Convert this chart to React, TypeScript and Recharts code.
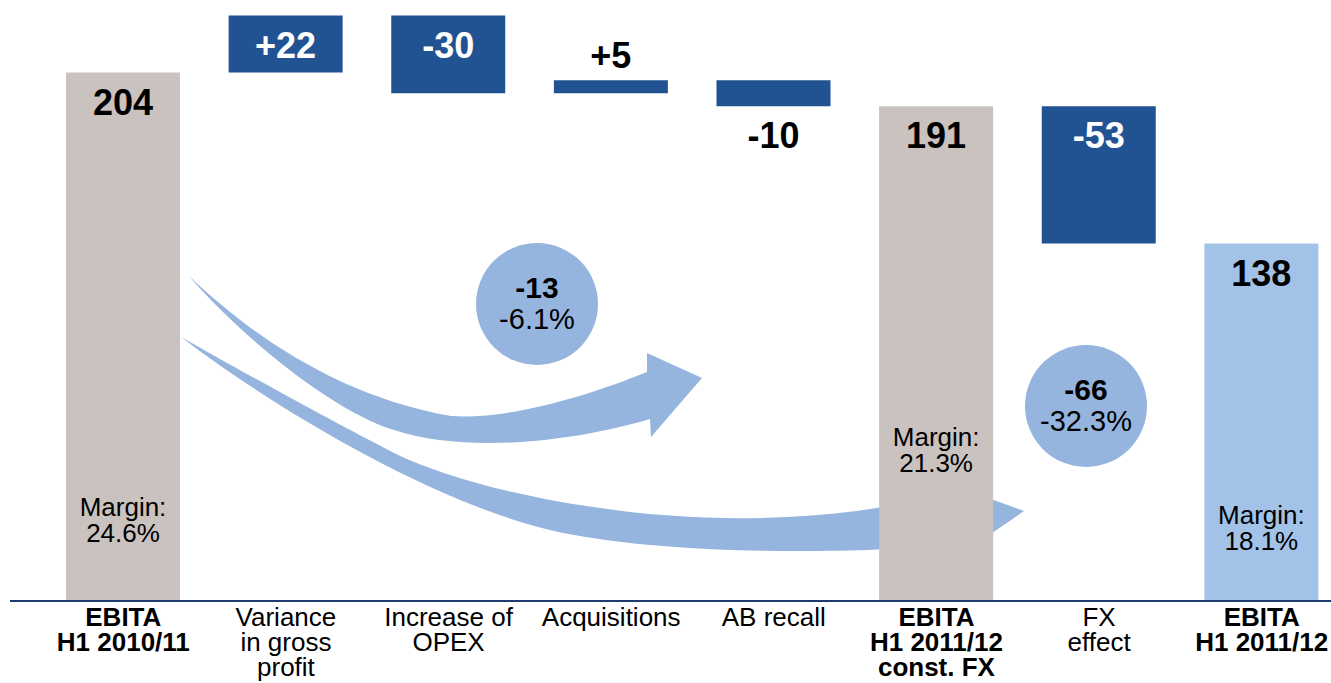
import { BarChart, Bar, XAxis, YAxis, Cell, LabelList, Customized } from "recharts"

// categories, split into the lines shown under the axis
const tickLines = [
  ["EBITA", "H1 2010/11"],
  ["Variance", "in gross", "profit"],
  ["Increase of", "OPEX"],
  ["Acquisitions"],
  ["AB recall"],
  ["EBITA", "H1 2011/12", "const. FX"],
  ["FX", "effect"],
  ["EBITA", "H1 2011/12"],
]
const boldTicks = [true, false, false, false, false, true, false, true]

// waterfall steps
const kinds = ["total", "delta", "delta", "delta", "delta", "total", "delta", "final"]
const values = [204, 22, -30, 5, -10, 191, -53, 138]
const margins = ["24.6%", "", "", "", "", "21.3%", "", "18.1%"]

// change bubbles
const bubbleTotals = ["-13", "-66"]
const bubblePcts = ["-6.1%", "-32.3%"]

const FONT = "Arial, 'Liberation Sans', sans-serif"
const GRAY = "#C9C2BF"
const NAVY = "#215393"
const LIGHT = "#A3C2E8"
const ARROW = "#95B5DE"

// px the margin text block sits above the bar bottom
const marginLift = [81, 0, 0, 0, 0, 151, 0, 73]

let running = 0
const data = values.map((v, i) => {
  const kind = kinds[i]
  let range: number[]
  if (kind === "delta") {
    const next = running + v
    range = [Math.min(running, next), Math.max(running, next)]
    running = next
  } else {
    range = [0, v]
    running = v
  }
  return {
    name: tickLines[i].join(" "),
    range,
    kind,
    label: kind === "delta" && v > 0 ? `+${v}` : `${v}`,
    margin: margins[i],
  }
})

const colorFor = (kind: string) => (kind === "delta" ? NAVY : kind === "final" ? LIGHT : GRAY)

function AxisTick(props: any) {
  const { x, y, index } = props
  const lines = tickLines[index] || []
  return (
    <text
      x={x}
      y={y}
      textAnchor="middle"
      fontFamily={FONT}
      fontSize={26}
      fontWeight={boldTicks[index] ? 700 : 400}
      fill="#000"
    >
      {lines.map((l, k) => (
        <tspan key={k} x={x} y={y + 25 + k * 25}>
          {l}
        </tspan>
      ))}
    </text>
  )
}

function ValueLabel(props: any) {
  const { x, y, width, height, value, index } = props
  const top = Math.min(y, y + height)
  const h = Math.abs(height)
  const cx = x + width / 2
  const kind = kinds[index]
  let ty = top + 42
  let fill = kind === "delta" ? "#fff" : "#000"
  if (h < 40) {
    fill = "#000"
    ty = values[index] > 0 ? top - 12 : top + h + 42
  }
  return (
    <text x={cx} y={ty} textAnchor="middle" fontFamily={FONT} fontSize={36} fontWeight={700} fill={fill}>
      {value}
    </text>
  )
}

function MarginLabel(props: any) {
  const { x, y, width, height, value, index } = props
  if (!value) return null
  const bottom = Math.max(y, y + height)
  const cy = bottom - marginLift[index]
  const cx = x + width / 2
  return (
    <text x={cx} y={cy} textAnchor="middle" fontFamily={FONT} fontSize={26} fill="#000">
      <tspan x={cx} y={cy - 4}>Margin:</tspan>
      <tspan x={cx} y={cy + 22}>{value}</tspan>
    </text>
  )
}

function Overlay() {
  const bubbles = [
    { cx: 537, cy: 304 },
    { cx: 1086, cy: 406 },
  ]
  return (
    <g>
      <path
        fill={ARROW}
        d="M 188 275 C 240 325, 330 395, 451 416 C 510 420, 590 395, 647 372 L 647 353 L 702 378 L 651 437 L 650 419 C 580 440, 470 455, 394 430 C 330 410, 240 335, 188 275 Z"
      />
      <path
        fill={ARROW}
        d="M 181 337 C 230 365, 330 420, 394 453 C 480 495, 650 525, 787 517 C 850 514, 900 505, 936 496 L 930 477 L 1024 511 L 947 564 L 943 546 C 850 553, 680 556, 563 533 C 450 510, 290 420, 181 337 Z"
      />
      {bubbles.map((b, i) => (
        <g key={i}>
          <circle cx={b.cx} cy={b.cy} r={61} fill={ARROW} />
          <text x={b.cx} y={b.cy - 6} textAnchor="middle" fontFamily={FONT} fontSize={30} fontWeight={700} fill="#000">
            {bubbleTotals[i]}
          </text>
          <text x={b.cx} y={b.cy + 25} textAnchor="middle" fontFamily={FONT} fontSize={29} fill="#000">
            {bubblePcts[i]}
          </text>
        </g>
      ))}
    </g>
  )
}

export default function App() {
  return (
    <div style={{ position: "absolute", left: 0, top: 0, width: 1331, height: 683, overflow: "hidden", background: "#fff" }}>
      <BarChart width={1343} height={683} data={data} margin={{ top: 0, right: 0, left: 10, bottom: 0 }} barCategoryGap={0}>
        <XAxis
          dataKey="name"
          interval={0}
          height={82}
          tickLine={false}
          tickSize={0}
          tickMargin={0}
          padding={{ left: 32, right: 0 }}
          axisLine={{ stroke: "#1F3A6E", strokeWidth: 2 }}
          tick={<AxisTick />}
        />
        <YAxis hide type="number" domain={[0, 232]} allowDataOverflow />
        <Bar dataKey="range" barSize={114} isAnimationActive={false}>
          {data.map((d, i) => (
            <Cell key={`cell-${i}`} fill={colorFor(d.kind)} />
          ))}
          <LabelList dataKey="label" content={<ValueLabel />} />
          <LabelList dataKey="margin" content={<MarginLabel />} />
        </Bar>
        <Customized component={<Overlay />} />
      </BarChart>
    </div>
  )
}
